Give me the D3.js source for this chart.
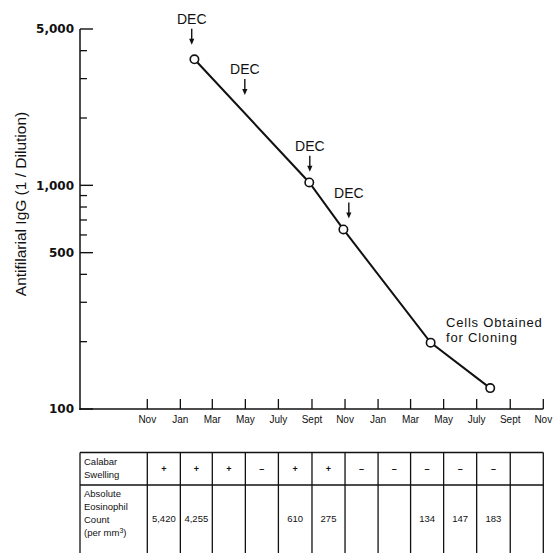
<!DOCTYPE html>
<html>
<head>
<meta charset="utf-8">
<script src="https://cdn.jsdelivr.net/npm/d3@7"></script>
<style>
  body { margin: 0; background: #fff; }
  text { font-family: "Liberation Sans", Arial, sans-serif; fill: #111; }
</style>
</head>
<body>
<svg id="graph"></svg>
<script>
// titer measurements
const sampleDates = ['1979-01-27', '1979-08-27', '1979-10-29', '1980-04-07', '1980-07-26']
const titers = [3660, 1030, 635, 198, 124]

// DEC treatment arrows (date, level of arrow tip)
const decDates = ['1979-01-22', '1979-04-30', '1979-08-28', '1979-11-08']
const decLevels = [4250, 2535, 1150, 710]

// axes
const yMajor = [100, 500, 1000, 5000]
const yMinor = [200, 300, 400, 600, 700, 800, 900, 2000, 3000, 4000]
const monthLabels = {0: 'Jan', 2: 'Mar', 4: 'May', 6: 'July', 8: 'Sept', 10: 'Nov'}

// table under the chart
const swelling = ['+', '+', '+', '–', '+', '+', '–', '–', '–', '–', '–', '']
const eosinophil = ['5,420', '4,255', '', '', '610', '275', '', '', '134', '147', '183', '']

const parse = d3.timeParse('%Y-%m-%d')

function drawGraph() {
    let fullWidth = 554
    let fullHeight = 553
    let left = 80, top = 29, bottom = 409

    let svg = d3.select('svg#graph')
                .attr('width', fullWidth)
                .attr('height', fullHeight)

    svg.append('rect')
       .attr('width', fullWidth)
       .attr('height', fullHeight)
       .attr('fill', '#fff')

    let x = d3.scaleTime()
              .domain([new Date(1978, 10, 1), new Date(1980, 10, 1)])
              .range([147.3, 543.3])
    let y = d3.scaleLog()
              .domain([100, 5000])
              .range([bottom, top])

    let monthTicks = d3.timeMonth.every(2).range(new Date(1978, 10, 1), new Date(1980, 10, 2))

    // y axis
    let yAxis = svg.append('g')
    yAxis.append('line')
         .attr('x1', left).attr('x2', left)
         .attr('y1', y(5000)).attr('y2', bottom + 1)
         .attr('stroke', '#111').attr('stroke-width', 1.5)
    yAxis.selectAll('.major').data(yMajor).join('line')
         .attr('x1', left).attr('x2', left + 13)
         .attr('y1', d => y(d)).attr('y2', d => y(d))
         .attr('stroke', '#111').attr('stroke-width', 1.4)
    yAxis.selectAll('.minor').data(yMinor).join('line')
         .attr('x1', left).attr('x2', left + 7)
         .attr('y1', d => y(d)).attr('y2', d => y(d))
         .attr('stroke', '#111').attr('stroke-width', 1.3)
    yAxis.selectAll('text').data(yMajor).join('text')
         .attr('x', left - 6)
         .attr('y', d => y(d))
         .attr('dy', '0.36em')
         .attr('text-anchor', 'end')
         .style('font-family', '"DejaVu Sans", sans-serif')
         .style('font-weight', 'bold')
         .style('font-size', '12px')
         .text(d => d3.format(',')(d))

    svg.append('text')
       .attr('transform', 'translate(26,204) rotate(-90)')
       .attr('text-anchor', 'middle')
       .style('font-size', '15.5px')
       .text('Antifilarial IgG (1 / Dilution)')

    // x axis
    let xAxis = svg.append('g')
    xAxis.append('line')
         .attr('x1', left - 0.75).attr('x2', x(monthTicks[monthTicks.length - 1]))
         .attr('y1', bottom).attr('y2', bottom)
         .attr('stroke', '#111').attr('stroke-width', 1.5)
    xAxis.selectAll('.tick').data(monthTicks).join('line')
         .attr('x1', d => x(d)).attr('x2', d => x(d))
         .attr('y1', bottom).attr('y2', bottom - 10)
         .attr('stroke', '#111').attr('stroke-width', 1.3)
    xAxis.selectAll('text').data(monthTicks).join('text')
         .attr('x', d => x(d))
         .attr('y', bottom + 14)
         .attr('text-anchor', 'middle')
         .style('font-size', '10px')
         .text(d => monthLabels[d.getMonth()])

    // titer line
    let points = sampleDates.map((d, i) => ({date: parse(d), value: titers[i]}))
    svg.append('path')
       .datum(points)
       .attr('fill', 'none')
       .attr('stroke', '#111')
       .attr('stroke-width', 2)
       .attr('d', d3.line().x(d => x(d.date)).y(d => y(d.value)))
    svg.selectAll('circle').data(points).join('circle')
       .attr('cx', d => x(d.date))
       .attr('cy', d => y(d.value))
       .attr('r', 4.2)
       .attr('fill', '#fff')
       .attr('stroke', '#111')
       .attr('stroke-width', 1.6)

    // DEC arrows
    let dec = svg.append('g')
    let decs = decDates.map((d, i) => ({date: parse(d), value: decLevels[i]}))
    dec.selectAll('line').data(decs).join('line')
       .attr('x1', d => x(d.date)).attr('x2', d => x(d.date))
       .attr('y1', d => y(d.value) - 16).attr('y2', d => y(d.value) - 4)
       .attr('stroke', '#111').attr('stroke-width', 1.4)
    dec.selectAll('path').data(decs).join('path')
       .attr('d', d => {
           let cx = x(d.date), cy = y(d.value)
           return `M${cx - 2.6},${cy - 6}L${cx + 2.6},${cy - 6}L${cx},${cy}Z`
       })
       .attr('fill', '#111')
    dec.selectAll('text').data(decs).join('text')
       .attr('x', d => x(d.date))
       .attr('y', d => y(d.value) - 21)
       .attr('text-anchor', 'middle')
       .style('font-size', '14px')
       .text('DEC')

    let note = svg.append('text')
                  .attr('x', 446)
                  .style('font-size', '13px')
                  .style('letter-spacing', '0.8px')
    note.append('tspan').attr('x', 446).attr('y', 327).text('Cells Obtained')
    note.append('tspan').attr('x', 446).attr('y', 342).text('for Cloning')

    // table
    let tTop = 452.5, tMid = 485, tBot = 560
    let table = svg.append('g')
    let cols = [left].concat(monthTicks.map(d => x(d)))
    table.selectAll('.hline').data([tTop, tMid]).join('line')
         .attr('x1', left).attr('x2', cols[cols.length - 1])
         .attr('y1', d => d).attr('y2', d => d)
         .attr('stroke', '#111').attr('stroke-width', 1.4)
    table.selectAll('.vline').data(cols).join('line')
         .attr('x1', d => d).attr('x2', d => d)
         .attr('y1', tTop).attr('y2', tBot)
         .attr('stroke', '#111').attr('stroke-width', 1.3)

    let cellCenters = d3.range(12).map(i => (x(monthTicks[i]) + x(monthTicks[i + 1])) / 2)

    table.selectAll('.sw').data(swelling).join('text')
         .attr('x', (d, i) => cellCenters[i])
         .attr('y', 472)
         .attr('text-anchor', 'middle')
         .style('font-size', '9px')
         .style('font-weight', 'bold')
         .text(d => d)
    table.selectAll('.eo').data(eosinophil).join('text')
         .attr('x', (d, i) => cellCenters[i])
         .attr('y', 522)
         .attr('text-anchor', 'middle')
         .style('font-size', '9.5px')
         .text(d => d)

    let lab1 = table.append('text').style('font-size', '9.5px')
    lab1.append('tspan').attr('x', 84).attr('y', 465).text('Calabar')
    lab1.append('tspan').attr('x', 84).attr('y', 478).text('Swelling')
    let lab2 = table.append('text').style('font-size', '9.5px')
    lab2.append('tspan').attr('x', 84).attr('y', 497).text('Absolute')
    lab2.append('tspan').attr('x', 84).attr('y', 510).text('Eosinophil')
    lab2.append('tspan').attr('x', 84).attr('y', 523).text('Count')
    lab2.append('tspan').attr('x', 84).attr('y', 536).text('(per mm')
    lab2.append('tspan').attr('dy', -3.5).style('font-size', '7px').text('3')
    lab2.append('tspan').attr('dy', 3.5).text(')')
}

drawGraph()
</script>
</body>
</html>
